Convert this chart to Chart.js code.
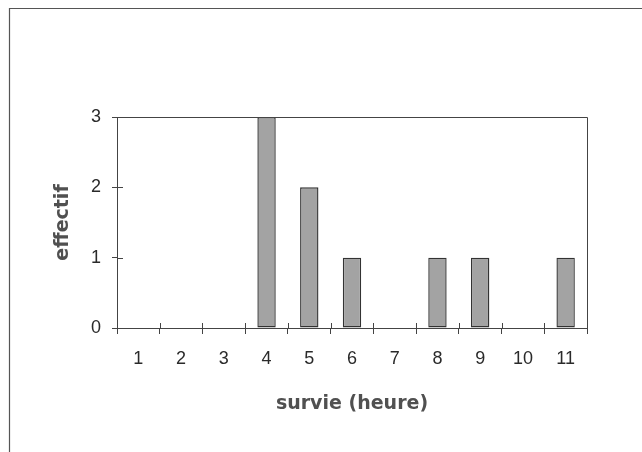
<!DOCTYPE html>
<html>
<head>
<meta charset="utf-8">
<script src="https://cdn.jsdelivr.net/npm/chart.js@4"></script>
<style>
html,body{margin:0;padding:0;background:#fff;}
#wrap{position:relative;width:642px;height:452px;}
</style>
</head>
<body>
<div id="wrap"><canvas id="c" width="642" height="452"></canvas></div>
<script>
const categories = ['1','2','3','4','5','6','7','8','9','10','11'];
const effectif = [0,0,0,3,2,1,0,1,1,0,1];
const yTicks = [0,1,2,3];
const xTitle = 'survie (heure)';
const yTitle = 'effectif';

const frameAndTicks = {
  id: 'frameAndTicks',
  beforeDraw(chart) {
    const ctx = chart.ctx;
    ctx.save();
    ctx.strokeStyle = '#555';
    ctx.lineWidth = 1.2;
    ctx.beginPath();
    ctx.moveTo(9.5, 452);
    ctx.lineTo(9.5, 8.5);
    ctx.lineTo(642, 8.5);
    ctx.stroke();
    ctx.restore();
  },
  afterDraw(chart) {
    const ctx = chart.ctx;
    const a = chart.chartArea;
    const xs = chart.scales.x, ys = chart.scales.y;
    ctx.save();
    ctx.strokeStyle = '#444';
    ctx.lineWidth = 1;
    ctx.beginPath();
    ctx.moveTo(Math.round(a.left) + 0.5, Math.round(a.top) + 0.5);
    ctx.lineTo(Math.round(a.right) + 0.5, Math.round(a.top) + 0.5);
    ctx.lineTo(Math.round(a.right) + 0.5, Math.round(a.bottom) + 0.5);
    ctx.stroke();
    ctx.beginPath();
    for (let i = 0; i <= categories.length; i++) {
      const x = Math.round(xs.getPixelForValue(i - 0.5)) + 0.5;
      ctx.moveTo(x, a.bottom);
      ctx.lineTo(x, a.bottom - 5);
    }
    yTicks.forEach(v => {
      const y = Math.round(ys.getPixelForValue(v)) + 0.5;
      ctx.moveTo(a.left, y);
      ctx.lineTo(a.left + 6, y);
    });
    ctx.stroke();
    ctx.restore();
  }
};

new Chart(document.getElementById('c'), {
  type: 'bar',
  data: {
    labels: categories,
    datasets: [{
      data: effectif,
      backgroundColor: '#a3a3a3',
      borderColor: '#333',
      borderWidth: 1.4,
      borderSkipped: false,
      categoryPercentage: 1,
      barPercentage: 0.43
    }]
  },
  options: {
    responsive: false,
    animation: false,
    devicePixelRatio: 1,
    layout: { padding: { top: 117, right: 55, left: 0, bottom: 0 } },
    plugins: { legend: { display: false }, tooltip: { enabled: false } },
    scales: {
      x: {
        afterFit(s) { s.height = 124; },
        grid: { drawOnChartArea: false, drawTicks: true, tickLength: 6, color: '#444', offset: true },
        border: { display: true, color: '#444', width: 1 },
        ticks: { color: '#2a2a2a', font: { family: 'Liberation Sans', size: 18 }, padding: 14, maxRotation: 0, autoSkip: false },
        title: { display: true, text: xTitle, color: '#505050', font: { family: 'DejaVu Sans', size: 19, weight: 'bold' }, padding: { top: 0, bottom: 37 } }
      },
      y: {
        min: 0, max: 3,
        afterFit(s) { s.width = 117; },
        afterBuildTicks(s) { s.ticks = yTicks.map(v => ({ value: v })); },
        grid: { drawOnChartArea: false, drawTicks: true, tickLength: 5, color: '#444' },
        border: { display: true, color: '#444', width: 1 },
        ticks: { color: '#2a2a2a', font: { family: 'Liberation Sans', size: 18 }, padding: 11 },
        title: { display: true, text: yTitle, color: '#505050', font: { family: 'DejaVu Sans', size: 19, weight: 'bold' }, padding: { top: 52, bottom: 0 } }
      }
    }
  },
  plugins: [frameAndTicks]
});
</script>
</body>
</html>
